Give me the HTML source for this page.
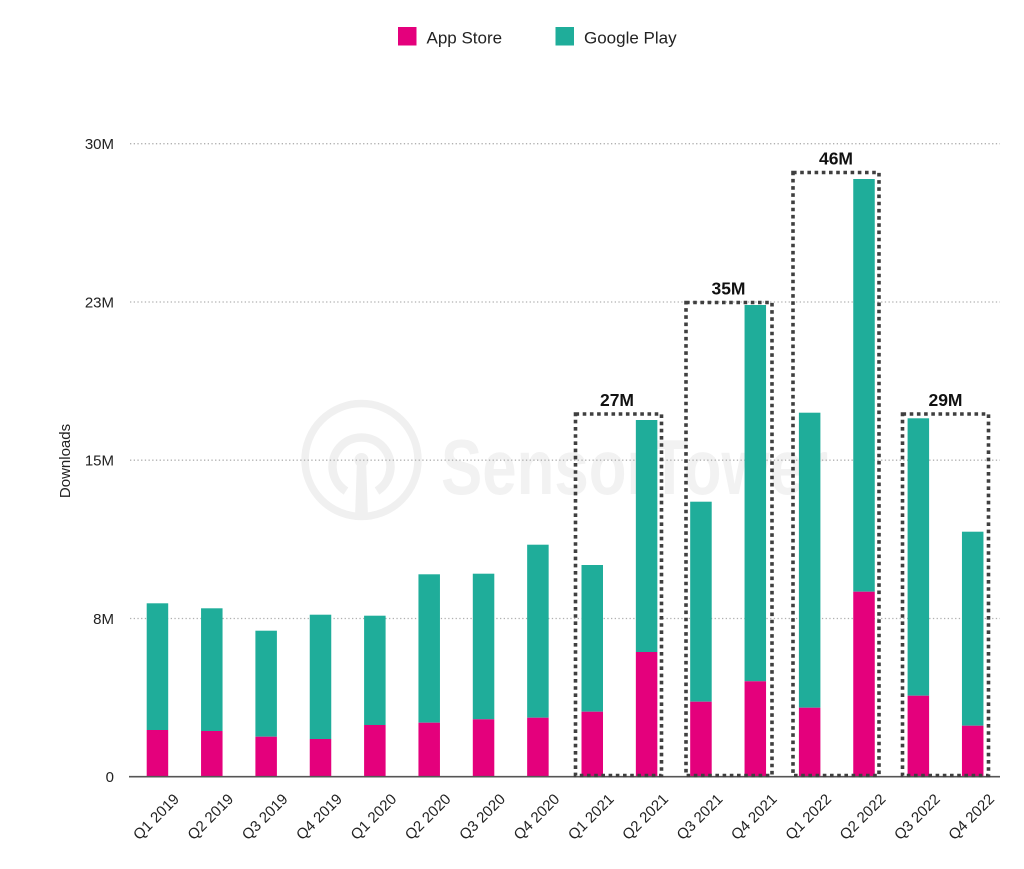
<!DOCTYPE html>
<html>
<head>
<meta charset="utf-8">
<style>
  html, body { margin:0; padding:0; background:#ffffff; }
  body { width:1024px; height:869px; overflow:hidden; }
  svg { display:block; }
  text { font-family: "Liberation Sans", "DejaVu Sans", sans-serif; }
</style>
</head>
<body>
<svg width="1024" height="869" viewBox="0 0 1024 869" xmlns="http://www.w3.org/2000/svg">
  <rect x="0" y="0" width="1024" height="869" fill="#ffffff"/>

  <!-- Watermark -->
  <g fill="none" stroke="#f0f0f0">
    <circle cx="361.5" cy="460" r="56.5" stroke-width="7.5"/>
    <path d="M 346 491 A 29 29 0 1 1 377 491" stroke-width="8.5"/>
  </g>
  <g fill="#f0f0f0">
    <circle cx="361.5" cy="460" r="7"/>
    <path d="M 357 460 L 366 460 L 368 517 L 355 517 Z"/>
  </g>
  <text x="441" y="494" font-size="78" font-weight="bold" fill="#f2f2f2" textLength="387" lengthAdjust="spacingAndGlyphs">SensorTower</text>

  <!-- Gridlines -->
  <g stroke="#b0b0b0" stroke-width="1.3" stroke-dasharray="1.3 2.4">
    <line x1="130" y1="143.7" x2="1000" y2="143.7"/>
    <line x1="130" y1="302" x2="1000" y2="302"/>
    <line x1="130" y1="460.2" x2="1000" y2="460.2"/>
    <line x1="130" y1="618.5" x2="1000" y2="618.5"/>
  </g>

  <!-- Y labels -->
  <g font-size="15" fill="#222" text-anchor="end">
    <text x="114" y="149">30M</text>
    <text x="114" y="307.5">23M</text>
    <text x="114" y="465.5">15M</text>
    <text x="114" y="624">8M</text>
    <text x="114" y="782">0</text>
  </g>
  <text x="0" y="0" font-size="15" fill="#222" text-anchor="middle" transform="translate(70,461) rotate(-90)">Downloads</text>

  <!-- Legend -->
  <rect x="398" y="27" width="18.5" height="18.5" fill="#e4007c"/>
  <text x="426.5" y="43.5" font-size="17" fill="#222">App Store</text>
  <rect x="555.5" y="27" width="18.5" height="18.5" fill="#1fad9a"/>
  <text x="584" y="43.5" font-size="17" fill="#222">Google Play</text>

  <!-- Bars -->
  <g>
    <rect x="146.7" y="603.3" width="21.5" height="126.7" fill="#1fad9a"/>
    <rect x="146.7" y="730" width="21.5" height="46.7" fill="#e4007c"/>

    <rect x="201.05" y="608.3" width="21.5" height="122.7" fill="#1fad9a"/>
    <rect x="201.05" y="731" width="21.5" height="45.7" fill="#e4007c"/>

    <rect x="255.4" y="630.7" width="21.5" height="106" fill="#1fad9a"/>
    <rect x="255.4" y="736.7" width="21.5" height="40" fill="#e4007c"/>

    <rect x="309.75" y="614.7" width="21.5" height="124.3" fill="#1fad9a"/>
    <rect x="309.75" y="739" width="21.5" height="37.7" fill="#e4007c"/>

    <rect x="364.1" y="615.7" width="21.5" height="109.3" fill="#1fad9a"/>
    <rect x="364.1" y="725" width="21.5" height="51.7" fill="#e4007c"/>

    <rect x="418.45" y="574.3" width="21.5" height="148.4" fill="#1fad9a"/>
    <rect x="418.45" y="722.7" width="21.5" height="54" fill="#e4007c"/>

    <rect x="472.8" y="573.7" width="21.5" height="145.6" fill="#1fad9a"/>
    <rect x="472.8" y="719.3" width="21.5" height="57.4" fill="#e4007c"/>

    <rect x="527.15" y="544.7" width="21.5" height="173" fill="#1fad9a"/>
    <rect x="527.15" y="717.7" width="21.5" height="59" fill="#e4007c"/>

    <rect x="581.5" y="565" width="21.5" height="146.7" fill="#1fad9a"/>
    <rect x="581.5" y="711.7" width="21.5" height="65" fill="#e4007c"/>

    <rect x="635.85" y="420" width="21.5" height="232" fill="#1fad9a"/>
    <rect x="635.85" y="652" width="21.5" height="124.7" fill="#e4007c"/>

    <rect x="690.2" y="501.7" width="21.5" height="200" fill="#1fad9a"/>
    <rect x="690.2" y="701.7" width="21.5" height="75" fill="#e4007c"/>

    <rect x="744.55" y="305" width="21.5" height="376.3" fill="#1fad9a"/>
    <rect x="744.55" y="681.3" width="21.5" height="95.4" fill="#e4007c"/>

    <rect x="798.9" y="412.7" width="21.5" height="295" fill="#1fad9a"/>
    <rect x="798.9" y="707.7" width="21.5" height="69" fill="#e4007c"/>

    <rect x="853.25" y="179" width="21.5" height="412.7" fill="#1fad9a"/>
    <rect x="853.25" y="591.7" width="21.5" height="185" fill="#e4007c"/>

    <rect x="907.6" y="418.3" width="21.5" height="277.4" fill="#1fad9a"/>
    <rect x="907.6" y="695.7" width="21.5" height="81" fill="#e4007c"/>

    <rect x="961.95" y="531.7" width="21.5" height="194" fill="#1fad9a"/>
    <rect x="961.95" y="725.7" width="21.5" height="51" fill="#e4007c"/>
  </g>

  <!-- Axis -->
  <line x1="129" y1="776.7" x2="1000" y2="776.7" stroke="#555" stroke-width="1.6"/>

  <!-- Dotted boxes -->
  <g fill="none" stroke="#3f3f3f" stroke-width="3.6" stroke-dasharray="3.6 3.6">
    <rect x="575.5" y="414" width="86" height="361.5"/>
    <rect x="686" y="302.5" width="86" height="473"/>
    <rect x="793" y="172.5" width="86" height="603"/>
    <rect x="902.5" y="414" width="86" height="361.5"/>
  </g>

  <!-- Box labels -->
  <g font-size="17.5" font-weight="bold" fill="#111" text-anchor="middle">
    <text x="617" y="406">27M</text>
    <text x="728.5" y="294.5">35M</text>
    <text x="836" y="164.5">46M</text>
    <text x="945.5" y="406">29M</text>
  </g>

  <!-- X labels -->
  <g font-size="15" fill="#222" text-anchor="end">
    <text transform="translate(180,800) rotate(-45)">Q1 2019</text>
    <text transform="translate(234.3,800) rotate(-45)">Q2 2019</text>
    <text transform="translate(288.7,800) rotate(-45)">Q3 2019</text>
    <text transform="translate(343,800) rotate(-45)">Q4 2019</text>
    <text transform="translate(397.4,800) rotate(-45)">Q1 2020</text>
    <text transform="translate(451.7,800) rotate(-45)">Q2 2020</text>
    <text transform="translate(506.1,800) rotate(-45)">Q3 2020</text>
    <text transform="translate(560.4,800) rotate(-45)">Q4 2020</text>
    <text transform="translate(614.8,800) rotate(-45)">Q1 2021</text>
    <text transform="translate(669.1,800) rotate(-45)">Q2 2021</text>
    <text transform="translate(723.5,800) rotate(-45)">Q3 2021</text>
    <text transform="translate(777.8,800) rotate(-45)">Q4 2021</text>
    <text transform="translate(832.2,800) rotate(-45)">Q1 2022</text>
    <text transform="translate(886.5,800) rotate(-45)">Q2 2022</text>
    <text transform="translate(940.9,800) rotate(-45)">Q3 2022</text>
    <text transform="translate(995.2,800) rotate(-45)">Q4 2022</text>
  </g>
</svg>
</body>
</html>
